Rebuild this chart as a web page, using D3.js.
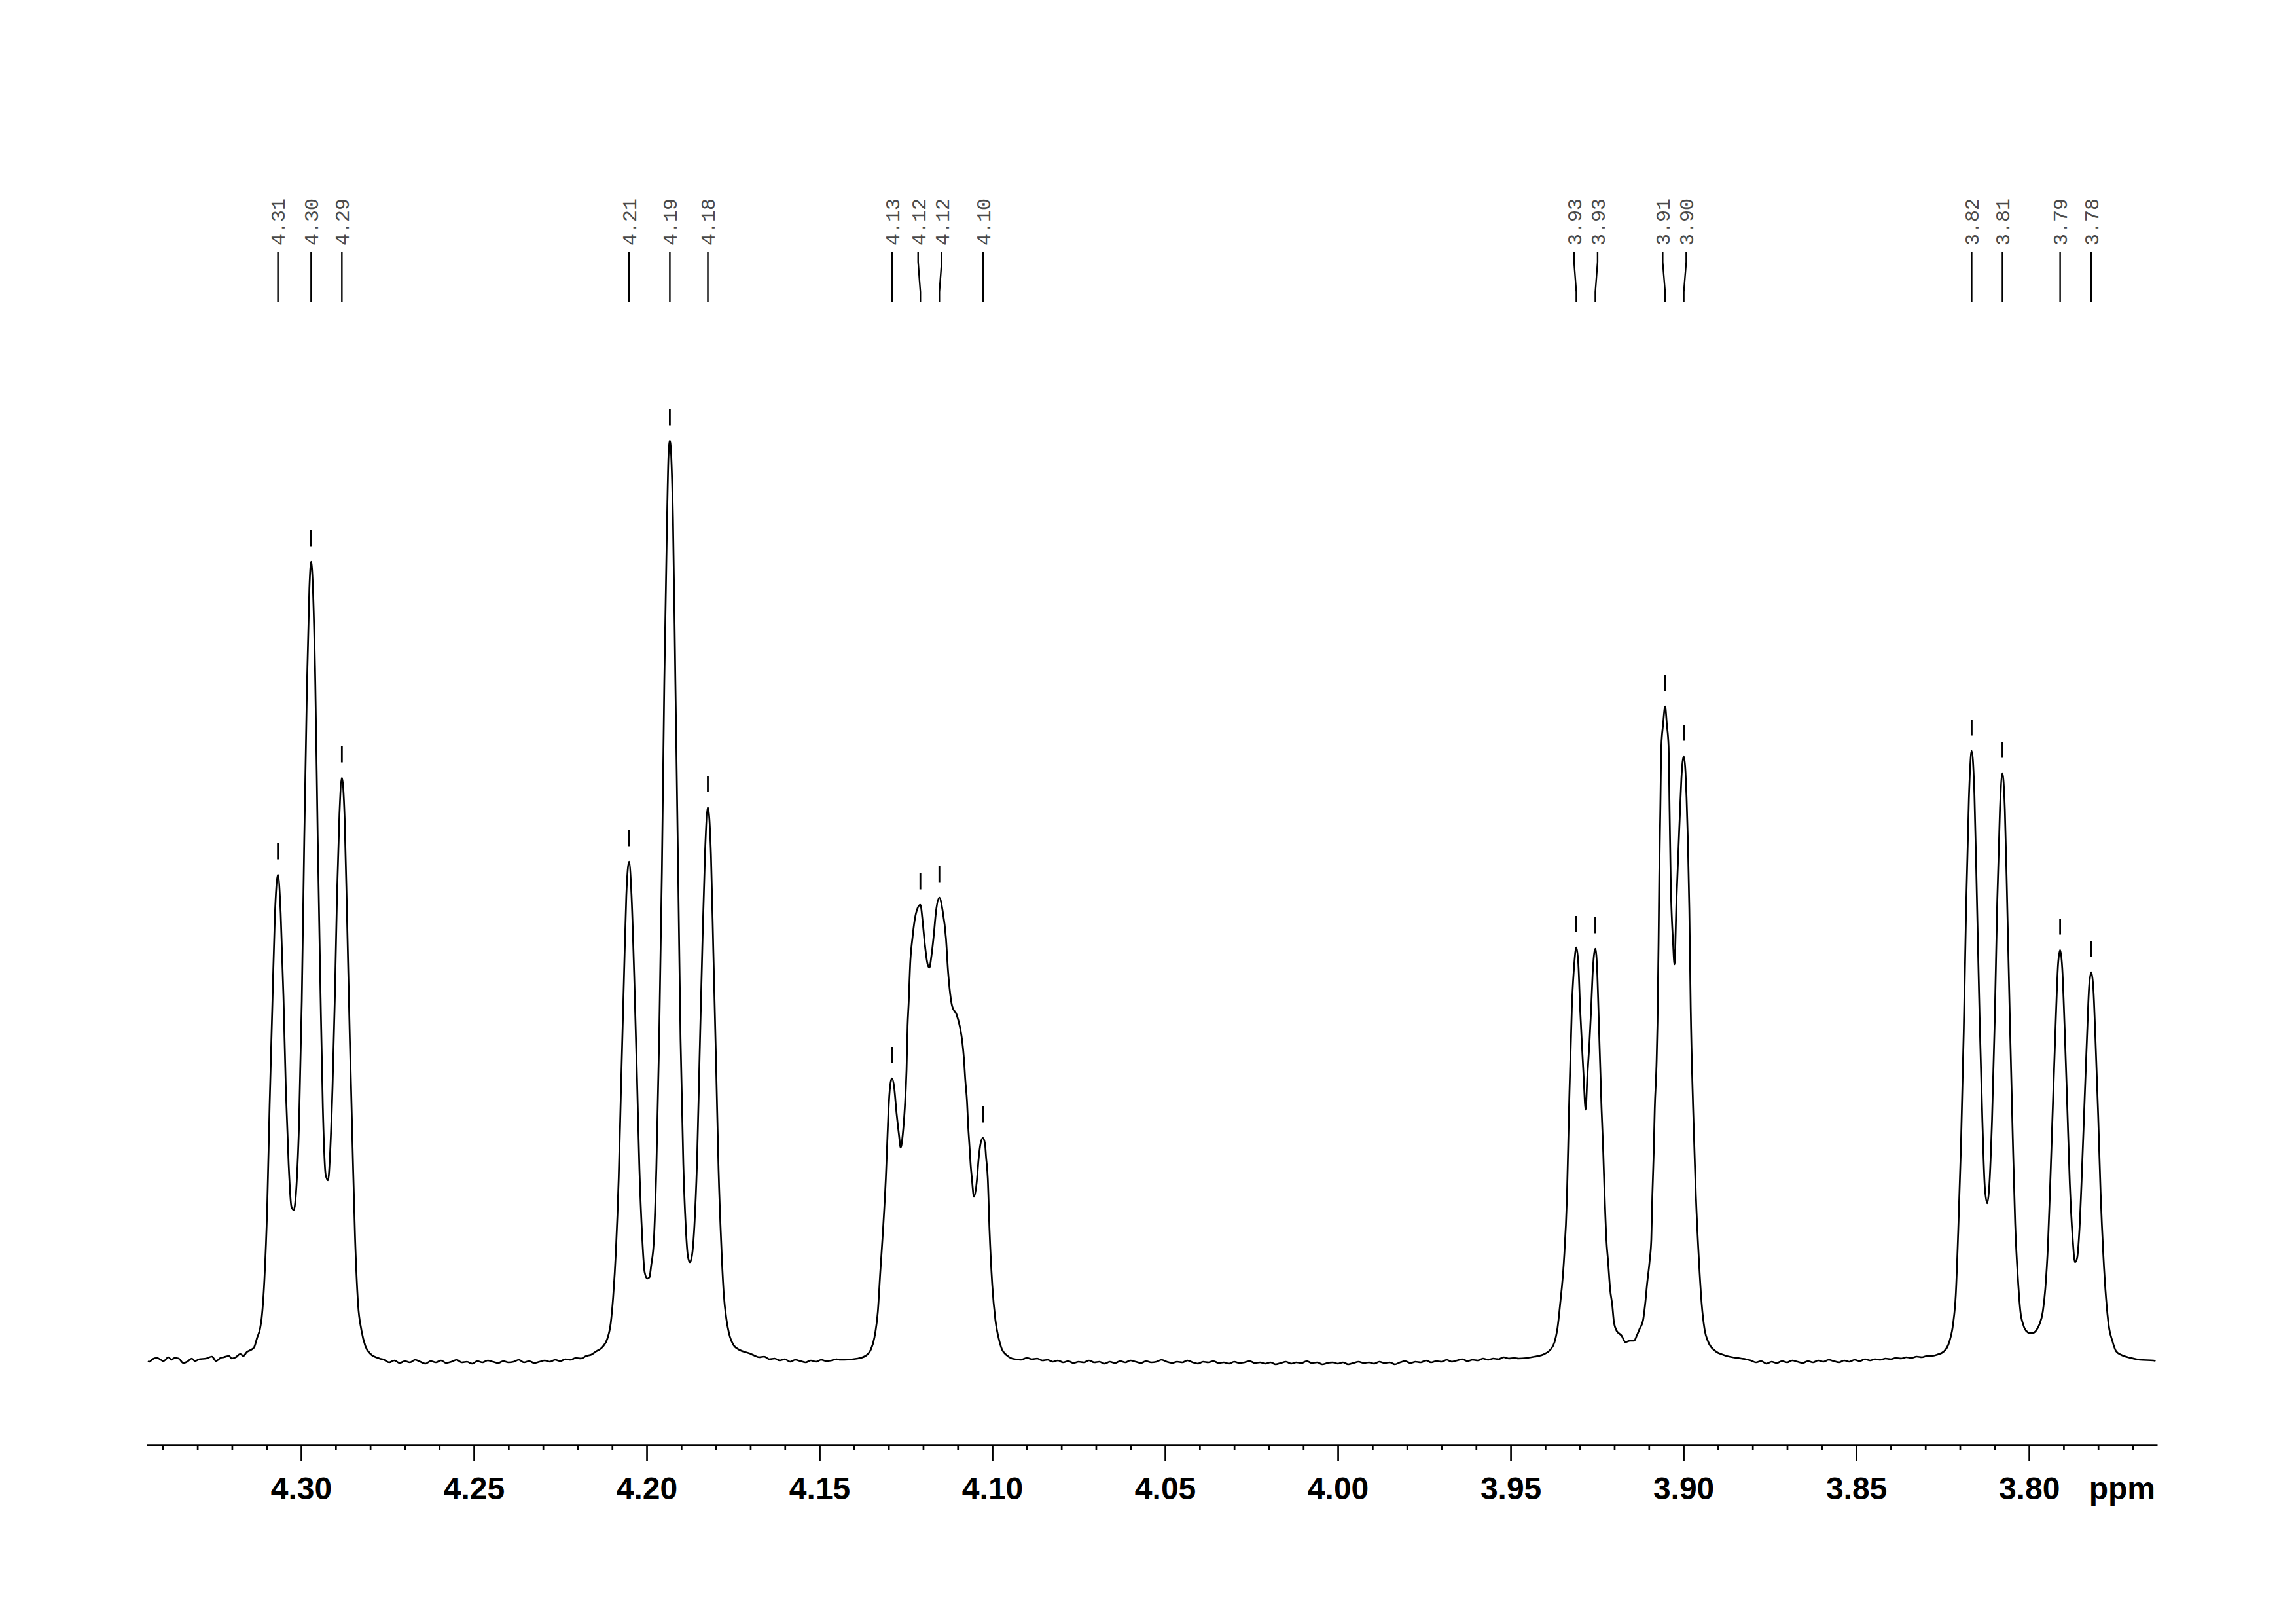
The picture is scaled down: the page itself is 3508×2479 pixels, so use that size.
<!DOCTYPE html>
<html><head><meta charset="utf-8">
<script src="https://cdn.jsdelivr.net/npm/d3@7"></script>
<style>html,body{margin:0;padding:0;background:#fff;}</style>
</head><body>
<svg id="chart" width="3508" height="2479"></svg>
<script>
// ---------------- DATA (ppm, intensity in arbitrary units) ----------------
const baselineLeft = [[4.3443,-0.1],[4.3439,-0.2],[4.3430,0.2],[4.3417,0.4],[4.3398,-0.1],[4.3384,0.5],[4.3375,0.1],[4.3366,0.4],[4.3354,0.3],[4.3341,-0.4],[4.3330,-0.2],[4.3316,0.3],[4.3307,-0.1],[4.3294,0.2],[4.3275,0.3],[4.3258,0.6],[4.3246,-0.1],[4.3233,0.4],[4.3224,0.5],[4.3208,0.7],[4.3201,0.3],[4.3189,0.5],[4.3176,1.0],[4.3167,0.7],[4.3157,1.3],[4.3146,1.6],[4.3136,2.0],[4.3127,3.5]];

const multiplet1 = [[4.3119,4.8],[4.3114,6.5],[4.3106,12.5],[4.3098,23.5],[4.3091,39.0],[4.3083,54.5],[4.3076,67.6],[4.3067,74.2],[4.3059,68.3],[4.3051,55.6],[4.3044,41.2],[4.3036,30.0],[4.3028,23.5],[4.3021,23.0],[4.3013,27.0],[4.3006,36.0],[4.2998,54.9],[4.2991,79.0],[4.2983,103.1],[4.2976,117.9],[4.2971,122.0],[4.2966,118.3],[4.2959,103.8],[4.2952,80.2],[4.2944,56.6],[4.2937,38.5],[4.2929,28.4],[4.2922,27.5],[4.2916,31.7],[4.2909,41.9],[4.2902,56.1],[4.2896,71.1],[4.2889,83.4],[4.2882,89.0],[4.2874,82.8],[4.2867,67.6],[4.2859,49.2],[4.2851,32.5],[4.2844,19.0],[4.2835,8.5],[4.2826,4.8],[4.2814,2.2],[4.2799,1.0],[4.2773,0.3]];

const noiseA = [[4.2760,0.1],[4.2745,-0.3],[4.2730,0.0],[4.2715,-0.4],[4.2700,-0.1],[4.2685,-0.3],[4.2670,0.1],[4.2655,-0.2],[4.2640,-0.5],[4.2625,-0.1],[4.2610,-0.3],[4.2595,0.0],[4.2580,-0.4],[4.2565,-0.2],[4.2550,0.1],[4.2535,-0.3],[4.2520,-0.2],[4.2505,-0.5],[4.2490,-0.1],[4.2475,-0.3],[4.2460,0.0],[4.2445,-0.2],[4.2430,-0.4],[4.2415,-0.1],[4.2400,-0.3],[4.2385,-0.2],[4.2370,0.1],[4.2355,-0.3],[4.2340,-0.1],[4.2325,-0.4],[4.2310,-0.2],[4.2295,0.0],[4.2280,-0.2],[4.2265,0.1],[4.2250,-0.1],[4.2235,0.2],[4.2220,0.1],[4.2205,0.4],[4.2190,0.3],[4.2175,0.7],[4.2160,0.9]];

const multiplet2 = [[4.2146,1.4],[4.2127,2.1],[4.2114,3.3],[4.2104,5.7],[4.2097,9.7],[4.2089,16.8],[4.2081,27.8],[4.2074,42.2],[4.2066,57.9],[4.2059,70.9],[4.2051,76.2],[4.2044,71.2],[4.2036,58.6],[4.2028,43.2],[4.2021,29.2],[4.2013,18.9],[4.2006,13.5],[4.1998,12.5],[4.1992,12.7],[4.1987,14.5],[4.1979,18.5],[4.1972,29.4],[4.1964,48.8],[4.1956,74.7],[4.1949,103.7],[4.1941,128.7],[4.1937,138.0],[4.1933,140.5],[4.1929,138.2],[4.1924,128.9],[4.1917,103.9],[4.1909,74.9],[4.1902,49.1],[4.1894,30.1],[4.1886,19.5],[4.1881,16.0],[4.1875,15.0],[4.1869,16.0],[4.1862,20.5],[4.1854,30.9],[4.1847,46.1],[4.1839,63.0],[4.1831,77.7],[4.1823,84.5],[4.1814,77.3],[4.1807,62.3],[4.1799,44.9],[4.1792,29.2],[4.1784,17.5],[4.1777,10.2],[4.1769,6.2],[4.1759,3.6],[4.1748,2.3],[4.1731,1.6],[4.1703,1.1]];

const noiseB = [[4.1690,0.8],[4.1675,0.5],[4.1660,0.6],[4.1645,0.2],[4.1630,0.3],[4.1615,0.0],[4.1600,0.2],[4.1585,-0.2],[4.1570,0.1],[4.1555,-0.1],[4.1540,-0.3],[4.1525,0.0],[4.1510,-0.2],[4.1495,0.1],[4.1480,-0.1],[4.1465,0.0],[4.1450,0.2],[4.1440,0.1]];

const multiplet3 = [[4.1428,0.1],[4.1390,0.3],[4.1367,0.7],[4.1352,1.6],[4.1341,3.5],[4.1331,7.5],[4.1324,13.5],[4.1316,20.0],[4.1308,27.8],[4.1303,34.5],[4.1299,39.5],[4.1294,42.5],[4.1290,43.1],[4.1284,41.8],[4.1277,37.8],[4.1270,34.5],[4.1265,32.5],[4.1259,34.5],[4.1254,37.8],[4.1248,44.5],[4.1245,51.1],[4.1242,54.5],[4.1237,61.1],[4.1231,64.5],[4.1225,67.1],[4.1216,69.1],[4.1208,69.6],[4.1201,66.8],[4.1195,63.5],[4.1187,60.5],[4.1182,60.0],[4.1176,61.8],[4.1169,65.1],[4.1163,68.5],[4.1153,70.7],[4.1144,68.8],[4.1134,64.5],[4.1128,59.5],[4.1122,56.1],[4.1116,54.1],[4.1103,52.8],[4.1093,50.8],[4.1087,48.8],[4.1082,46.1],[4.1078,42.8],[4.1073,39.5],[4.1070,36.1],[4.1066,32.8],[4.1062,29.5],[4.1059,27.8],[4.1053,25.0],[4.1044,27.8],[4.1040,30.5],[4.1034,33.1],[4.1027,34.0],[4.1021,33.1],[4.1018,31.1],[4.1013,27.8],[4.1008,20.0],[4.1000,11.5],[4.0991,6.2],[4.0981,3.3],[4.0972,1.7],[4.0958,0.8],[4.0943,0.3],[4.0917,0.1]];

const noiseC = [[4.0900,0.4],[4.0885,0.2],[4.0870,0.3],[4.0855,0.0],[4.0840,0.1],[4.0825,-0.2],[4.0810,0.0],[4.0795,-0.3],[4.0780,-0.1],[4.0765,-0.4],[4.0750,-0.2],[4.0735,-0.3],[4.0720,0.0],[4.0705,-0.3],[4.0690,-0.2],[4.0675,-0.5],[4.0660,-0.2],[4.0645,-0.4],[4.0630,-0.1],[4.0615,-0.3],[4.0600,0.0],[4.0585,-0.2],[4.0570,-0.4],[4.0555,-0.1],[4.0540,-0.3],[4.0525,-0.2],[4.0510,0.1],[4.0495,-0.2],[4.0480,-0.4],[4.0465,-0.2],[4.0450,-0.3],[4.0435,0.0],[4.0420,-0.3],[4.0405,-0.5],[4.0390,-0.2],[4.0375,-0.3],[4.0360,-0.1],[4.0345,-0.4],[4.0330,-0.3],[4.0315,-0.5],[4.0300,-0.2],[4.0285,-0.4],[4.0270,-0.3],[4.0255,-0.1],[4.0240,-0.4],[4.0225,-0.3],[4.0210,-0.5],[4.0195,-0.3],[4.0180,-0.6],[4.0165,-0.4],[4.0150,-0.2],[4.0135,-0.5],[4.0120,-0.3],[4.0105,-0.4],[4.0090,-0.1],[4.0075,-0.4],[4.0060,-0.3],[4.0045,-0.6],[4.0030,-0.4],[4.0015,-0.3],[4.0000,-0.5],[3.9985,-0.3],[3.9970,-0.6],[3.9955,-0.4],[3.9940,-0.2],[3.9925,-0.4],[3.9910,-0.3],[3.9895,-0.5],[3.9880,-0.2],[3.9865,-0.4],[3.9850,-0.3],[3.9835,-0.6],[3.9820,-0.3],[3.9805,-0.1],[3.9790,-0.4],[3.9775,-0.2],[3.9760,-0.3],[3.9745,0.0],[3.9730,-0.3],[3.9715,-0.1],[3.9700,-0.2],[3.9685,0.1],[3.9670,-0.2],[3.9655,0.0],[3.9640,0.2],[3.9625,-0.1],[3.9610,0.1],[3.9595,0.0],[3.9580,0.3],[3.9565,0.1],[3.9550,0.3],[3.9535,0.2],[3.9520,0.5],[3.9505,0.3],[3.9490,0.4]];

const multiplet4 = [[3.9477,0.3],[3.9430,0.6],[3.9402,1.0],[3.9386,1.6],[3.9373,2.8],[3.9364,5.1],[3.9357,8.5],[3.9346,15.1],[3.9337,25.1],[3.9331,38.5],[3.9323,53.8],[3.9316,60.5],[3.9310,63.1],[3.9304,60.5],[3.9299,53.8],[3.9294,48.5],[3.9289,43.5],[3.9283,38.3],[3.9278,43.5],[3.9272,48.5],[3.9267,53.8],[3.9263,58.8],[3.9255,62.9],[3.9249,58.8],[3.9246,53.8],[3.9237,38.5],[3.9232,31.8],[3.9228,25.1],[3.9223,18.5],[3.9218,15.1],[3.9212,10.8],[3.9206,8.5],[3.9201,5.8],[3.9193,4.5],[3.9179,3.8],[3.9168,2.8],[3.9155,3.0],[3.9143,3.0],[3.9135,3.8],[3.9127,4.8],[3.9117,6.1],[3.9111,8.5],[3.9105,11.8],[3.9098,15.1],[3.9093,18.5],[3.9090,25.1],[3.9086,31.8],[3.9083,38.5],[3.9078,45.1],[3.9075,51.8],[3.9072,63.8],[3.9070,73.8],[3.9067,83.8],[3.9064,93.8],[3.9059,97.1],[3.9053,99.9],[3.9048,97.1],[3.9043,93.8],[3.9040,83.8],[3.9037,73.8],[3.9030,63.8],[3.9026,60.5],[3.9020,70.5],[3.9010,83.8],[3.9006,88.8],[3.8999,92.3],[3.8994,89.8],[3.8991,86.0],[3.8987,79.0],[3.8983,69.0],[3.8979,53.8],[3.8972,38.5],[3.8964,25.1],[3.8955,15.1],[3.8947,8.5],[3.8939,4.8],[3.8928,2.8],[3.8909,1.5],[3.8881,0.8],[3.8833,0.3]];

const noiseD = [[3.8820,0.2],[3.8805,0.0],[3.8790,-0.3],[3.8775,-0.1],[3.8760,-0.5],[3.8745,-0.2],[3.8730,-0.4],[3.8715,-0.1],[3.8700,-0.3],[3.8685,0.0],[3.8670,-0.2],[3.8655,-0.4],[3.8640,-0.1],[3.8625,-0.3],[3.8610,0.0],[3.8595,-0.2],[3.8580,0.1],[3.8565,-0.1],[3.8550,-0.3],[3.8535,0.0],[3.8520,-0.2],[3.8505,0.1],[3.8490,-0.1],[3.8475,0.2],[3.8460,0.0],[3.8445,0.2],[3.8430,0.1],[3.8415,0.3],[3.8400,0.2],[3.8385,0.4],[3.8370,0.3],[3.8355,0.5],[3.8340,0.4],[3.8325,0.6],[3.8310,0.5],[3.8295,0.7]];

const multiplet5 = [[3.8284,0.7],[3.8265,0.9],[3.8246,1.4],[3.8231,2.8],[3.8220,5.5],[3.8212,10.0],[3.8205,19.6],[3.8197,32.7],[3.8189,50.1],[3.8182,69.3],[3.8174,85.8],[3.8166,93.1],[3.8158,86.4],[3.8151,70.9],[3.8143,52.4],[3.8135,36.6],[3.8128,26.5],[3.8121,24.0],[3.8115,26.6],[3.8107,36.9],[3.8099,52.4],[3.8092,70.0],[3.8084,84.4],[3.8077,89.7],[3.8070,84.2],[3.8063,69.4],[3.8055,51.0],[3.8047,33.9],[3.8040,20.8],[3.8032,12.4],[3.8025,7.5],[3.8017,5.5],[3.8008,4.5],[3.7998,4.2],[3.7989,4.2],[3.7979,4.6],[3.7970,5.5],[3.7960,7.5],[3.7953,10.9],[3.7945,17.9],[3.7938,28.0],[3.7930,40.6],[3.7922,52.9],[3.7916,60.5],[3.7910,62.7],[3.7904,60.0],[3.7897,50.8],[3.7889,38.2],[3.7882,27.0],[3.7874,18.9],[3.7867,15.0],[3.7861,15.6],[3.7854,20.1],[3.7847,28.7],[3.7839,40.1],[3.7831,51.2],[3.7826,57.2],[3.7820,59.3],[3.7814,56.9],[3.7808,49.3],[3.7800,37.5],[3.7793,25.7],[3.7785,16.1],[3.7777,9.4],[3.7769,5.2],[3.7759,3.0],[3.7748,1.4],[3.7731,0.8],[3.7706,0.4],[3.7678,0.1],[3.7640,0.0],[3.7634,-0.1]];

const peakPpm = [4.3067,4.2971,4.2882,4.2051,4.1933,4.1823,4.1290,4.1208,4.1153,4.1027,3.9310,3.9255,3.9053,3.8999,3.8166,3.8077,3.7910,3.7820];
const peakLabels = ["4.31","4.30","4.29","4.21","4.19","4.18","4.13","4.12","4.12","4.10","3.93","3.93","3.91","3.90","3.82","3.81","3.79","3.78"];

const majorTicks = [4.30,4.25,4.20,4.15,4.10,4.05,4.00,3.95,3.90,3.85,3.80];
const majorTickLabels = ["4.30","4.25","4.20","4.15","4.10","4.05","4.00","3.95","3.90","3.85","3.80"];
const minorTicks = [4.34,4.33,4.32,4.31,4.29,4.28,4.27,4.26,4.24,4.23,4.22,4.21,4.19,4.18,4.17,4.16,4.14,4.13,4.12,4.11,4.09,4.08,4.07,4.06,4.04,4.03,4.02,4.01,3.99,3.98,3.97,3.96,3.94,3.93,3.92,3.91,3.89,3.88,3.87,3.86,3.84,3.83,3.82,3.81,3.79,3.78,3.77];
const axisUnit = "ppm";

// ---------------- DRAWING ----------------
const W = 3508, H = 2479;
const svg = d3.select("#chart");
svg.append("rect").attr("width", W).attr("height", H).attr("fill", "#fff");

const x = d3.scaleLinear().domain([4.3447, 3.7629]).range([224, 3296]);
const y = d3.scaleLinear().domain([0, 150]).range([2078, 578]);

const spectrum = [].concat(baselineLeft, multiplet1, noiseA, multiplet2, noiseB, multiplet3, noiseC, multiplet4, noiseD, multiplet5);

const line = d3.line().x(d => x(d[0])).y(d => y(d[1])).curve(d3.curveMonotoneX);
svg.append("path").datum(spectrum)
  .attr("d", line).attr("fill", "none").attr("stroke", "#000")
  .attr("stroke-width", 2.7).attr("stroke-linejoin", "round");

// axis
const axisY = 2207;
const gMinor = svg.append("g").attr("transform", `translate(0,${axisY})`)
  .call(d3.axisBottom(x).tickValues(minorTicks).tickSize(8).tickSizeOuter(0).tickFormat(""));
const gMajor = svg.append("g").attr("transform", `translate(0,${axisY})`)
  .call(d3.axisBottom(x).tickValues(majorTicks).tickSize(25).tickSizeOuter(0).tickFormat((d, i) => majorTickLabels[i]));
gMajor.select(".domain").remove();
svg.selectAll(".domain").attr("stroke", "#000").attr("stroke-width", 2.7);
svg.selectAll(".tick line").attr("stroke", "#000").attr("stroke-width", 2.7);
gMajor.selectAll(".tick text")
  .attr("y", 83).attr("dy", 0)
  .attr("font-family", "'Liberation Sans', Arial, sans-serif")
  .attr("font-weight", "bold").attr("font-size", 48).attr("fill", "#000");
svg.append("text").attr("x", 3293).attr("y", axisY + 83)
  .attr("text-anchor", "end")
  .attr("font-family", "'Liberation Sans', Arial, sans-serif")
  .attr("font-weight", "bold").attr("font-size", 48).attr("fill", "#000")
  .text(axisUnit);

// peak labels
function spread(xs, gap) {
  const idx = xs.map((v, i) => i).sort((a, b) => xs[a] - xs[b]);
  const out = xs.slice();
  for (let it = 0; it < 60; it++) {
    let moved = false;
    for (let k = 0; k < idx.length - 1; k++) {
      const a = idx[k], b = idx[k + 1];
      const d = out[b] - out[a];
      if (d < gap - 0.01) { const s = (gap - d) / 2; out[a] -= s; out[b] += s; moved = true; }
    }
    if (!moved) break;
  }
  return out;
}
const peakX = peakPpm.map(p => x(p));
const labelX = spread(peakX, 36);
const gLab = svg.append("g");
peakPpm.forEach((p, i) => {
  const px = peakX[i], lx = labelX[i];
  gLab.append("path")
    .attr("d", `M${lx},385 L${lx},400 L${px},446 L${px},461`)
    .attr("fill", "none").attr("stroke", "#000").attr("stroke-width", 2.4);
  gLab.append("text")
    .attr("transform", `translate(${lx},375) rotate(-90)`)
    .attr("dy", "0.36em")
    .attr("text-anchor", "start")
    .attr("font-family", "'Liberation Mono', 'DejaVu Sans Mono', monospace")
    .attr("font-size", 30).attr("fill", "#4a4a4a")
    .text(peakLabels[i]);
  const top = d3.least(spectrum, d => Math.abs(d[0] - p));
  const ty = y(top[1]);
  gLab.append("line")
    .attr("x1", px).attr("x2", px).attr("y1", ty - 48).attr("y2", ty - 23.5)
    .attr("stroke", "#000").attr("stroke-width", 2.8);
});
</script>
</body></html>
